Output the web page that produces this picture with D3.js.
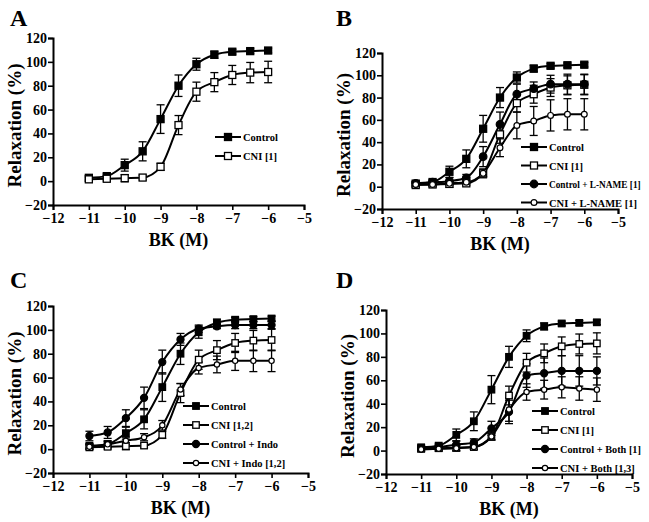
<!DOCTYPE html>
<html><head><meta charset="utf-8">
<script src="https://cdn.jsdelivr.net/npm/d3@7"></script>
<style>
html,body{margin:0;padding:0;background:#fff;}
svg{display:block;}
text{font-family:"Liberation Serif","Times New Roman",serif;font-weight:bold;fill:#000;}
</style></head>
<body>
<svg id="chart" width="649" height="522"></svg>
<script>
// ---- data ----
const xTicks = [-12, -11, -10, -9, -8, -7, -6, -5];
const yTicks = [-20, 0, 20, 40, 60, 80, 100, 120];
const logBK = [-11, -10.5, -10, -9.5, -9, -8.5, -8, -7.5, -7, -6.5, -6];

const controlMean = [2.8, 4.2, 13.4, 25, 52, 80, 98, 106, 108.5, 109, 109.5];
const controlSEM  = [2, 2, 5, 8, 12, 9, 5, 3, 2, 2, 2];
const cniMean     = [1.5, 2, 2.5, 3, 12, 47, 75, 83, 89, 91, 91.5];
const cniSEM      = [2, 2, 3, 2, 3, 8, 8, 8, 8, 8.5, 9];
const lnameMean   = [3, 4, 5, 8, 27, 56, 83, 88, 92, 92, 92];
const lnameSEM    = [2, 2, 3, 3, 9, 11, 9, 6, 8, 9, 9];
const cniLnameMean = [2, 2, 3, 4, 12, 35, 55, 59, 64, 65, 65];
const cniLnameSEM  = [2, 2, 2, 2, 4, 8, 12, 13, 14, 14, 14];
const indoMean    = [11, 14, 26, 43, 73, 92, 101, 103, 104, 104, 104];
const indoSEM     = [4, 5, 7, 9, 10, 5, 3, 2, 3, 3, 3];
const cniIndoMean = [2, 4, 7, 10, 20, 50, 68, 71, 74, 74, 74];
const cniIndoSEM  = [2, 3, 3, 3, 4, 5, 5, 7, 8, 9, 9];
const bothMean    = [2, 3, 5, 7, 19, 33, 64, 66, 68, 68, 68];
const bothSEM     = [2, 2, 3, 3, 6, 10, 10, 13, 13, 13, 12];
const cniBothMean = [1, 1.5, 2, 3, 12, 35, 50, 52, 54, 53, 52];
const cniBothSEM  = [2, 2, 2, 2, 3, 10, 7, 8, 9, 10, 10];

const panelLetters = ["A", "B", "C", "D"];
const legendA = ["Control", "CNI  [1]"];
const legendB = ["Control", "CNI [1]", "Control + L-NAME [1]", "CNI + L-NAME [1]"];
const legendC = ["Control", "CNI [1,2]", "Control + Indo", "CNI + Indo [1,2]"];
const legendD = ["Control", "CNI [1]", "Control + Both [1]", "CNI + Both [1,3]"];
const xTitle = "BK (M)";
const yTitle = "Relaxation (%)";

// ---- layout ----
const panels = [
  {letter: panelLetters[0], lx: 10, ly: 26, x0: 53, x1: 304, yTop: 38, yBot: 205,
   legX: 215, legY: 137, legDy: 19, msz: 7,
   series: [
     {mean: controlMean, sem: controlSEM, shape: "square", fill: true, label: legendA[0]},
     {mean: cniMean, sem: cniSEM, shape: "square", fill: false, label: legendA[1]}]},
  {letter: panelLetters[1], lx: 336, ly: 26, x0: 382, x1: 618, yTop: 53, yBot: 209,
   legX: 521, legY: 147, legDy: 18.5, msz: 7,
   series: [
     {mean: controlMean, sem: controlSEM, shape: "square", fill: true, label: legendB[0]},
     {mean: cniMean, sem: cniSEM, shape: "square", fill: false, label: legendB[1]},
     {mean: lnameMean, sem: lnameSEM, shape: "circle", fill: true, label: legendB[2]},
     {mean: cniLnameMean, sem: cniLnameSEM, shape: "circle", fill: false, label: legendB[3]}]},
  {letter: panelLetters[2], lx: 10, ly: 288, x0: 53, x1: 308, yTop: 306, yBot: 473,
   legX: 183, legY: 406, legDy: 19, msz: 6.5,
   series: [
     {mean: controlMean, sem: controlSEM, shape: "square", fill: true, label: legendC[0]},
     {mean: cniMean, sem: cniSEM, shape: "square", fill: false, label: legendC[1]},
     {mean: indoMean, sem: indoSEM, shape: "circle", fill: true, label: legendC[2]},
     {mean: cniIndoMean, sem: cniIndoSEM, shape: "circle", fill: false, label: legendC[3]}]},
  {letter: panelLetters[3], lx: 336, ly: 288, x0: 386, x1: 632, yTop: 310, yBot: 474,
   legX: 532, legY: 411, legDy: 19, msz: 6.5,
   series: [
     {mean: controlMean, sem: controlSEM, shape: "square", fill: true, label: legendD[0]},
     {mean: cniMean, sem: cniSEM, shape: "square", fill: false, label: legendD[1]},
     {mean: bothMean, sem: bothSEM, shape: "circle", fill: true, label: legendD[2]},
     {mean: cniBothMean, sem: cniBothSEM, shape: "circle", fill: false, label: legendD[3]}]}
];

const svg = d3.select("#chart");
const W = 649;

function drawMarker(g, shape, fill, cx, cy, sz) {
  if (shape === "square") {
    g.append("rect").attr("x", cx - sz / 2).attr("y", cy - sz / 2)
      .attr("width", sz).attr("height", sz)
      .attr("fill", fill ? "#000" : "#fff").attr("stroke", "#000").attr("stroke-width", 1.3);
  } else {
    const r = fill ? sz / 2 + 0.3 : sz / 2 - 0.6;
    g.append("circle").attr("cx", cx).attr("cy", cy).attr("r", r)
      .attr("fill", fill ? "#000" : "#fff").attr("stroke", "#000").attr("stroke-width", 1.2);
  }
}

panels.forEach(p => {
  const x = d3.scaleLinear().domain([-12, -5]).range([p.x0, p.x1]);
  const y = d3.scaleLinear().domain([-20, 120]).range([p.yBot, p.yTop]);
  const g = svg.append("g");

  // axes
  const xAxis = d3.axisBottom(x).tickValues(xTicks).tickSize(5).tickPadding(3).tickFormat(d3.format("d"));
  const yAxis = d3.axisLeft(y).tickValues(yTicks).tickSize(5).tickPadding(1).tickFormat(d3.format("d"));
  const gx = g.append("g").attr("transform", `translate(0,${p.yBot})`).call(xAxis);
  const gy = g.append("g").attr("transform", `translate(${p.x0},0)`).call(yAxis);
  [gx, gy].forEach(a => {
    a.attr("font-family", null).attr("font-size", null);
    a.select(".domain").attr("stroke", "#000").attr("stroke-width", 2);
    a.selectAll(".tick line").attr("stroke", "#000").attr("stroke-width", 1.6);
    a.selectAll(".tick text")
      .attr("font-family", "Liberation Serif").attr("font-weight", "bold")
      .attr("font-size", 14).attr("fill", "#000");
  });
  gx.selectAll(".tick text").attr("dy", "0.72em");

  // titles
  g.append("text").attr("x", p.lx).attr("y", p.ly).attr("font-size", 24).text(p.letter);
  g.append("text").attr("x", (p.x0 + p.x1) / 2).attr("y", p.yBot + 41)
    .attr("text-anchor", "middle").attr("font-size", 18).text(xTitle);
  g.append("text").attr("transform", `translate(${p.x0 - 32},${(p.yTop + p.yBot) / 2 + 4}) rotate(-90)`)
    .attr("text-anchor", "middle").attr("font-size", 19).text(yTitle);

  const line = d3.line().x((d, i) => x(logBK[i])).y(d => y(d)).curve(d3.curveMonotoneX);

  // curves
  p.series.forEach(s => {
    g.append("path").attr("d", line(s.mean)).attr("fill", "none")
      .attr("stroke", "#000").attr("stroke-width", 2);
  });
  // error bars
  p.series.forEach(s => {
    s.mean.forEach((m, i) => {
      const cx = x(logBK[i]);
      const yh = y(m + s.sem[i]), yl = y(m - s.sem[i]);
      g.append("line").attr("x1", cx).attr("x2", cx).attr("y1", yh).attr("y2", yl)
        .attr("stroke", "#000").attr("stroke-width", 1.3);
      [yh, yl].forEach(yy => g.append("line").attr("x1", cx - 4).attr("x2", cx + 4)
        .attr("y1", yy).attr("y2", yy).attr("stroke", "#000").attr("stroke-width", 1.3));
    });
  });
  // markers
  p.series.forEach(s => {
    s.mean.forEach((m, i) => drawMarker(g, s.shape, s.fill, x(logBK[i]), y(m), p.msz));
  });

  // legend
  p.series.forEach((s, k) => {
    const ly = p.legY + k * p.legDy;
    g.append("line").attr("x1", p.legX).attr("x2", p.legX + 26).attr("y1", ly).attr("y2", ly)
      .attr("stroke", "#000").attr("stroke-width", 2);
    drawMarker(g, s.shape, s.fill, p.legX + 13, ly, p.msz);
    const tx = p.legX + 28;
    const fs = 10.5;
    const t = g.append("text").attr("x", tx).attr("y", ly + 4).attr("font-size", fs).text(s.label);
    const maxW = W - 8 - tx;
    const w = t.node().getComputedTextLength();
    if (w > maxW) t.attr("font-size", Math.floor(fs * maxW / w * 10) / 10);
  });
});
</script>
</body></html>
